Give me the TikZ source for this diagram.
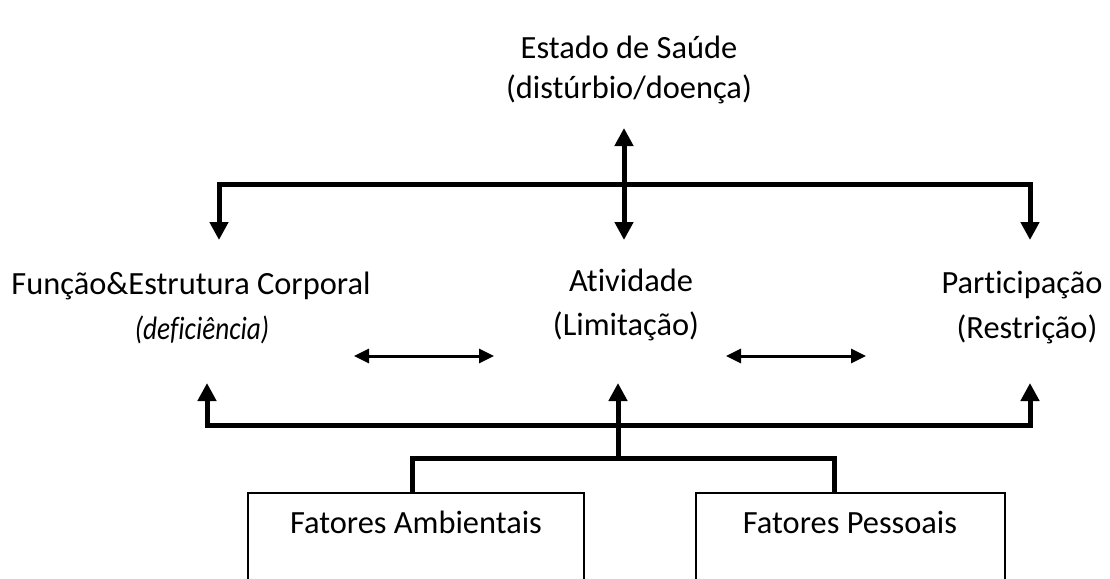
\documentclass[tikz,border=0pt]{standalone}
\usepackage{fontspec}
\setmainfont{Carlito}[Ligatures=CommonOff]
\usetikzlibrary{arrows.meta}

\tikzset{
  txt/.style={font=\fontsize{16.2}{19}\selectfont, anchor=base, inner sep=0pt},
  bar/.style={line width=2.5pt, line join=miter},
  bigtip/.style={-{Triangle[length=9pt,width=9pt]}},
  bigtips/.style={{Triangle[length=9pt,width=9pt]}-{Triangle[length=9pt,width=9pt]}},
  smalltips/.style={line width=1.5pt, {Triangle[length=7.5pt,width=7pt]}-{Triangle[length=7.5pt,width=7pt]}},
  fbox/.style={draw, line width=1pt, anchor=north, minimum height=60pt, inner sep=0pt}
}

\begin{document}
\begin{tikzpicture}[x=0.5pt,y=-0.5pt]
                \path[use as bounding box, clip] (0,0) rectangle (1110,579);
                % textos
                \node[txt] (estado) at (629,58) {Estado de Saúde};
                \node[txt] (disturbio) at (629,98) {(distúrbio/doença)};
                \node[txt] (funcao) at (191,294) {Função\&Estrutura Corporal};
                \node[txt] (deficiencia) at (202,339) {\scalebox{0.84}[1]{\itshape (deficiência)}};
                \node[txt] (atividade) at (631,291) {Atividade};
                \node[txt] (limitacao) at (626,335) {(Limitação)};
                \node[txt] (participacao) at (1022,293) {Participação};
                \node[txt] (restricao) at (1027,338) {(Restrição)};
                \node[fbox, minimum width=168pt] (ambbox) at (416,492) {};
                \node[fbox, minimum width=154.5pt] (pessbox) at (850.5,492) {};
                \node[txt] (ambientais) at (416,533) {Fatores Ambientais};
                \node[txt] (pessoais) at (850,533) {Fatores Pessoais};
                % pontos
                \coordinate (saudeb) at (624,128);
                \coordinate (ativt) at (624,240);
                \coordinate (funct) at (219,240);
                \coordinate (partt) at (1030,240);
                \coordinate (funcb) at (207,383);
                \coordinate (ativb) at (618,383);
                \coordinate (partb) at (1030,383);
                \coordinate (juncao) at (618,458);
                \coordinate (ambcon) at (412,492);
                \coordinate (pesscon) at (834,492);
                % ligacoes
                \draw[bar, bigtips] (saudeb) -- (ativt);
                \draw[bar, bigtips] (funct) -- (funct |- 0,184) -- (partt |- 0,184) -- (partt);
                \draw[bar, bigtips] (funcb) -- (funcb |- 0,425) -- (partb |- 0,425) -- (partb);
                \draw[bar, bigtip] (juncao) -- (ativb);
                \draw[bar] (ambcon) |- (juncao) -| (pesscon);
                \draw[smalltips] (354,356) coordinate (e1) -- (494,356) coordinate (e2);
                \draw[smalltips] (726,356) coordinate (e3) -- (866,356) coordinate (e4);
            \end{tikzpicture}
\end{document}
